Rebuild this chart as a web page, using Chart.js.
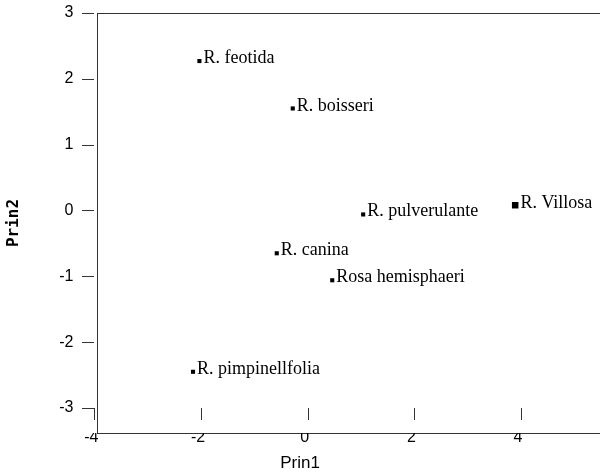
<!DOCTYPE html>
<html><head><meta charset="utf-8">
<script src="https://cdn.jsdelivr.net/npm/chart.js@4.4.1/dist/chart.umd.min.js"></script>
<style>html,body{margin:0;padding:0;background:#fff}#wrap{width:600px;height:475px;position:relative}</style>
</head><body><div id="wrap"><canvas id="c"></canvas></div>
<script>
const species = ['R. feotida','R. boisseri','R. pulverulante','R. Villosa','R. canina','Rosa hemisphaeri','R. pimpinellfolia'];
const prin1 = [-2.03,-0.28,1.04,3.89,-0.58,0.46,-2.15];
const prin2 = [2.27,1.55,-0.06,0.08,-0.65,-1.06,-2.45];
const xTicks = [-4,-2,0,2,4];
const yTicks = [-3,-2,-1,0,1,2,3];
const xTitle = 'Prin1';
const yTitle = 'Prin2';
const bigMarker = 'R. Villosa';

const AXIS = '#333';

function noPad(s) { s.paddingTop = 0; s.paddingBottom = 0; s.paddingLeft = 0; s.paddingRight = 0; }

const tickMarks = {
  id: 'tickMarks',
  afterDraw(chart) {
    const {ctx, chartArea: a, scales: {x, y}} = chart;
    ctx.save();
    ctx.strokeStyle = AXIS; ctx.lineWidth = 1;
    ctx.beginPath();
    yTicks.forEach(v => { const p = Math.round(y.getPixelForValue(v)) + 0.5; ctx.moveTo(a.left - 15, p); ctx.lineTo(a.left - 3, p); });
    xTicks.forEach(v => { const p = Math.round(x.getPixelForValue(v)) + 0.5; ctx.moveTo(p, a.bottom - 25); ctx.lineTo(p, a.bottom - 13); });
    ctx.stroke();
    ctx.restore();
  }
};

const pointLabels = {
  id: 'pointLabels',
  afterDatasetsDraw(chart) {
    const ctx = chart.ctx;
    const meta = chart.getDatasetMeta(0);
    ctx.save();
    ctx.font = '18px "Liberation Serif", "Times New Roman", serif';
    ctx.fillStyle = '#000';
    ctx.textAlign = 'left';
    ctx.textBaseline = 'alphabetic';
    meta.data.forEach((el, i) => {
      const half = el.options.radius * Math.SQRT1_2;
      ctx.fillText(species[i], el.x + half + 2, el.y + half);
    });
    ctx.restore();
  }
};

new Chart(document.getElementById('c'), {
  type: 'scatter',
  data: {
    datasets: [{
      data: prin1.map((v, i) => ({x: v, y: prin2[i]})),
      xAxisID: 'x', yAxisID: 'y',
      pointStyle: 'rect',
      pointRadius: c => species[c.dataIndex] === bigMarker ? 4.6 : 2.9,
      pointBorderWidth: 0,
      backgroundColor: '#000',
      borderColor: '#000'
    }]
  },
  options: {
    responsive: true, maintainAspectRatio: false, animation: false,
    layout: {padding: 0, autoPadding: false},
    plugins: {
      legend: {display: false},
      tooltip: {enabled: false},
      title: {display: true, text: xTitle, position: 'bottom', color: '#000',
        font: {family: 'Arial, "Liberation Sans"', size: 17, weight: 'normal'},
        padding: {top: 0, bottom: 1}}
    },
    scales: {
      x: {
        type: 'linear', axis: 'x', position: 'bottom', min: -3.95, max: 5.48,
        afterBuildTicks: s => { s.ticks = xTicks.map(v => ({value: v})); },
        afterFit: s => { s.height = 20.6; noPad(s); },
        grid: {display: false, drawTicks: false},
        border: {display: true, color: AXIS, width: 1},
        ticks: {color: '#000', font: {family: 'Arial, "Liberation Sans"', size: 16}, padding: -5, labelOffset: -3, maxRotation: 0, autoSkip: false}
      },
      xTop: {
        type: 'linear', axis: 'x', position: 'top', min: -3.95, max: 5.48,
        afterFit: s => { s.height = 13; noPad(s); },
        grid: {display: false, drawTicks: false},
        border: {display: true, color: AXIS, width: 1},
        ticks: {display: false}
      },
      y: {
        type: 'linear', axis: 'y', position: 'left', min: -3.38, max: 3,
        afterBuildTicks: s => { s.ticks = yTicks.map(v => ({value: v})); },
        afterFit: s => { s.width = 97; noPad(s); },
        grid: {display: false, drawTicks: false},
        border: {display: true, color: AXIS, width: 1},
        ticks: {color: '#000', font: {family: 'Arial, "Liberation Sans"', size: 16}, padding: 23.5, autoSkip: false},
        title: {display: true, text: yTitle, color: '#000',
          font: {family: '"DejaVu Sans Mono"', size: 16, weight: 'bold'},
          padding: {top: 4, bottom: 0}}
      }
    }
  },
  plugins: [tickMarks, pointLabels]
});
</script>
</body></html>
